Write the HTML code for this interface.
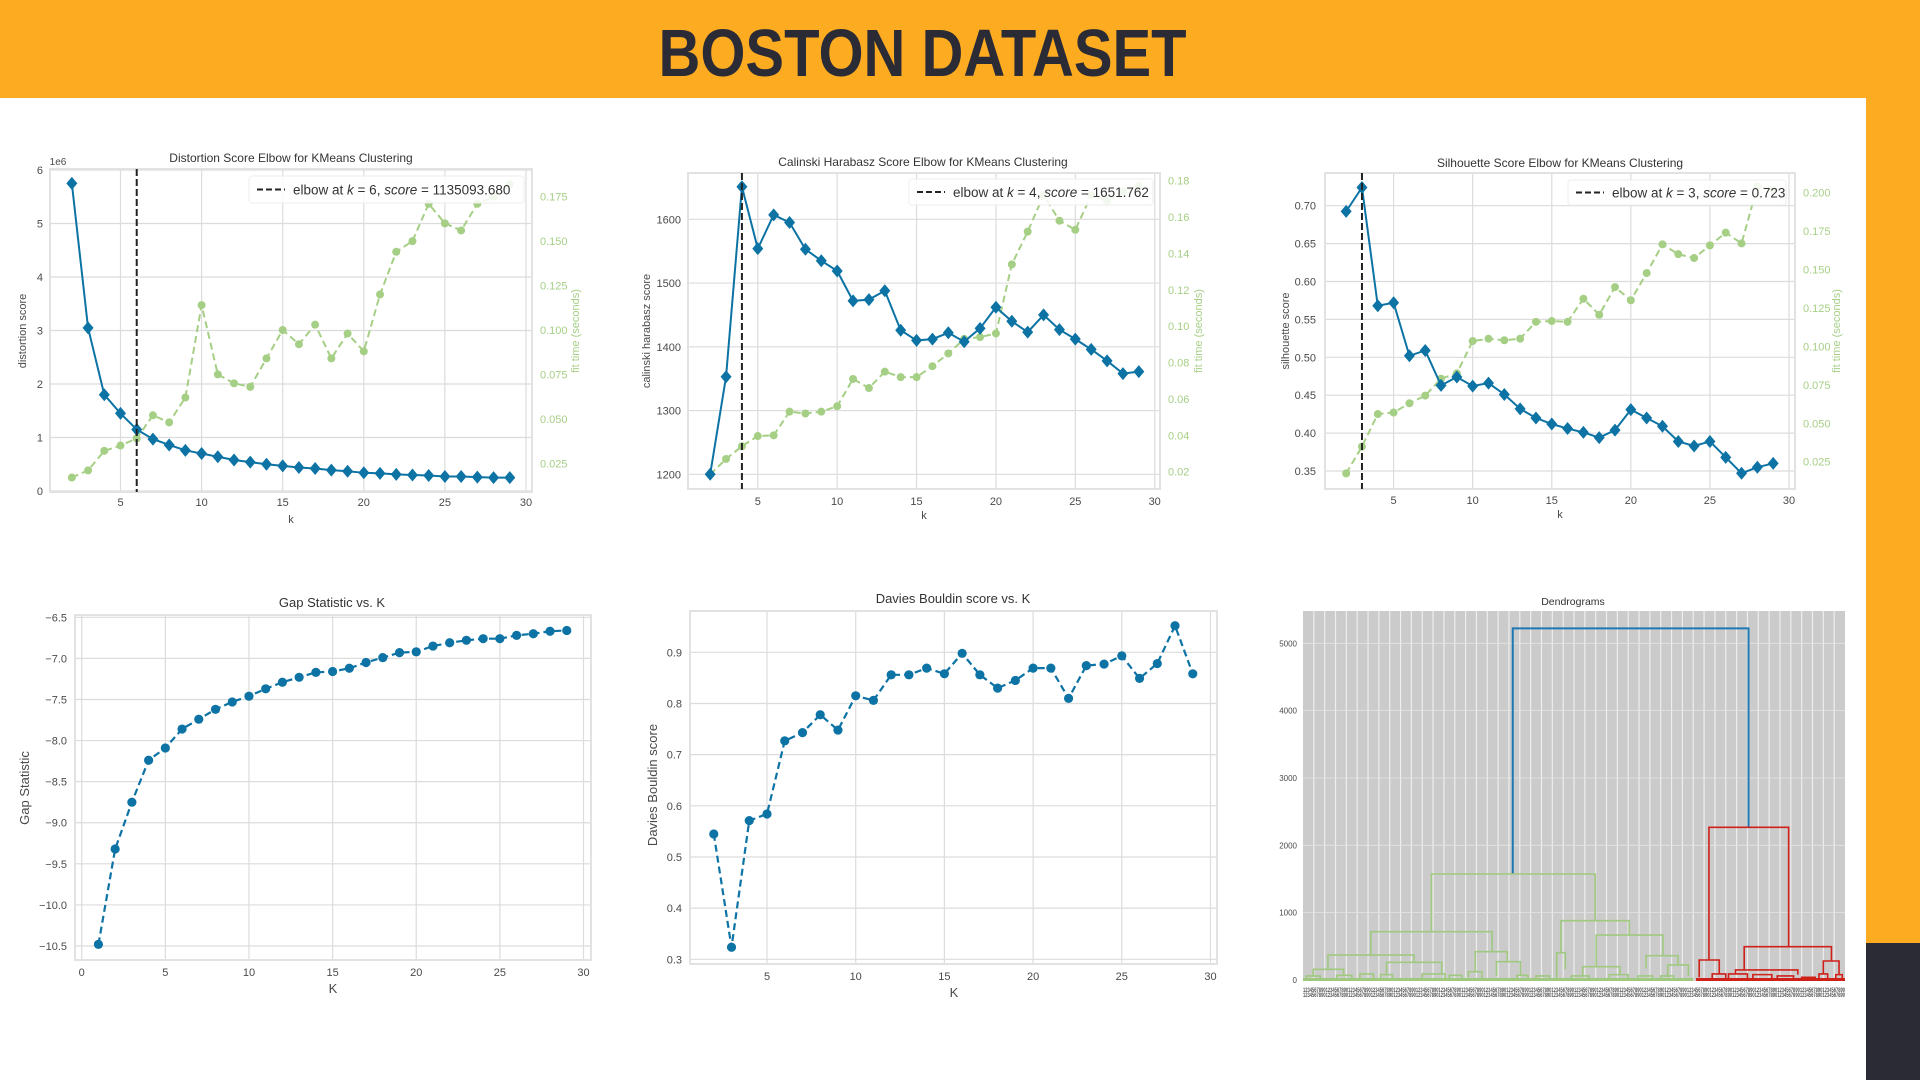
<!DOCTYPE html>
<html><head><meta charset="utf-8"><title>Boston Dataset</title>
<style>
html,body{margin:0;padding:0;width:1920px;height:1080px;overflow:hidden;background:#fff;font-family:"Liberation Sans",sans-serif;}
#hdr{position:absolute;left:0;top:0;width:1920px;height:98px;background:#fdab21;}
#hdr h1{margin:0;position:absolute;left:618px;width:600px;top:20px;text-align:center;font:bold 67px/1 "Liberation Sans",sans-serif;color:#2b2b36;transform:scaleX(0.865);transform-origin:50% 50%;white-space:nowrap;}
#strip{position:absolute;left:1866px;top:98px;width:54px;height:845px;background:#fdab21;}
#dark{position:absolute;left:1866px;top:943px;width:54px;height:137px;background:#2b2b36;}
svg{position:absolute;left:0;top:0;}
</style></head>
<body>
<div id="hdr"><h1>BOSTON DATASET</h1></div>
<div id="strip"></div>
<div id="dark"></div>
<svg id="main" width="1920" height="1080"></svg>
<script>
// ---------- data ----------
const kElbow = [2,3,4,5,6,7,8,9,10,11,12,13,14,15,16,17,18,19,20,21,22,23,24,25,26,27,28,29];
const distortion = [5.75,3.05,1.8,1.45,1.15,0.97,0.86,0.76,0.70,0.64,0.58,0.54,0.50,0.47,0.44,0.42,0.39,0.37,0.34,0.33,0.31,0.30,0.29,0.27,0.27,0.26,0.25,0.25];
const distFit = [0.017,0.021,0.032,0.035,0.039,0.052,0.048,0.062,0.114,0.075,0.070,0.068,0.084,0.100,0.092,0.103,0.084,0.098,0.088,0.120,0.144,0.150,0.171,0.160,0.156,0.171,0.175,0.182];
const calinski = [1200,1353,1651,1554,1607,1595,1553,1535,1519,1472,1474,1488,1426,1410,1412,1422,1408,1429,1462,1440,1423,1450,1427,1412,1396,1378,1358,1361];
const calFit = [0.0185,0.027,0.034,0.0396,0.040,0.053,0.052,0.053,0.056,0.071,0.066,0.075,0.072,0.072,0.078,0.085,0.093,0.094,0.096,0.134,0.152,0.172,0.158,0.153,0.172,0.169,0.174,0.177];
const silhouette = [0.6925,0.724,0.568,0.572,0.502,0.509,0.463,0.474,0.462,0.466,0.451,0.432,0.420,0.412,0.406,0.401,0.394,0.404,0.431,0.420,0.409,0.389,0.383,0.389,0.368,0.347,0.355,0.360];
const silFit = [0.0174,0.0348,0.056,0.057,0.063,0.068,0.079,0.0825,0.1035,0.105,0.104,0.105,0.116,0.1165,0.116,0.131,0.1206,0.1386,0.130,0.1477,0.1664,0.160,0.1575,0.1657,0.174,0.167,0.204,0.202];
const kGap = [1,2,3,4,5,6,7,8,9,10,11,12,13,14,15,16,17,18,19,20,21,22,23,24,25,26,27,28,29];
const gapStat = [-10.48,-9.32,-8.75,-8.24,-8.09,-7.86,-7.74,-7.62,-7.53,-7.46,-7.37,-7.29,-7.23,-7.17,-7.16,-7.12,-7.05,-6.99,-6.93,-6.92,-6.85,-6.81,-6.78,-6.76,-6.76,-6.72,-6.70,-6.67,-6.66];
const kDB = [2,3,4,5,6,7,8,9,10,11,12,13,14,15,16,17,18,19,20,21,22,23,24,25,26,27,28,29];
const daviesBouldin = [0.545,0.3235,0.571,0.584,0.727,0.743,0.778,0.748,0.815,0.806,0.856,0.856,0.869,0.858,0.898,0.856,0.830,0.845,0.869,0.869,0.810,0.874,0.877,0.893,0.849,0.878,0.952,0.858];
const elbowK = [6,4,3];
const elbowScoreText = ["1135093.680","1651.762","0.723"];
const ticksK = [5,10,15,20,25,30];
const ticksK0 = [0,5,10,15,20,25,30];
const ticksDist = [0,1,2,3,4,5,6];
const ticksDistFit = [0.025,0.050,0.075,0.100,0.125,0.150,0.175];
const ticksCal = [1200,1300,1400,1500,1600];
const ticksCalFit = [0.02,0.04,0.06,0.08,0.10,0.12,0.14,0.16,0.18];
const ticksSil = [0.35,0.40,0.45,0.50,0.55,0.60,0.65,0.70];
const ticksSilFit = [0.025,0.050,0.075,0.100,0.125,0.150,0.175,0.200];
const ticksGap = [-6.5,-7.0,-7.5,-8.0,-8.5,-9.0,-9.5,-10.0,-10.5];
const ticksDB = [0.3,0.4,0.5,0.6,0.7,0.8,0.9];
const ticksDendro = [0,1000,2000,3000,4000,5000];
// dendrogram links: [xLeft, xRight, height, heightLeftChild, heightRightChild, cluster]
const dendroLinks = [
 [38.7,82.2,5222,1574,2267,0],
 [23.7,53.9,1574,718,881,1],
 [12.5,34.9,718,371,421,1],
 [4.6,20.5,371,158,262,1],
 [1.9,7.5,158,60,70,1],
 [15.4,25.6,262,80,90,1],
 [31.8,37.7,421,124,272,1],
 [35.7,40.1,272,60,70,1],
 [30.5,33.0,124,40,30,1],
 [47.6,60.2,881,406,668,1],
 [46.8,48.4,406,30,160,1],
 [54.1,66.4,668,198,361,1],
 [51.6,58.5,198,60,80,1],
 [63.3,69.2,361,170,223,1],
 [67.3,71.1,223,40,60,1],
 [0.6,3.2,60,15,20,1],[6.2,9.0,70,20,25,1],[10.5,13.0,90,20,30,1],[14.3,16.5,80,25,20,1],
 [22.0,26.2,90,25,30,1],[27.0,29.3,70,20,15,1],[39.5,41.5,70,20,25,1],[43.0,45.5,60,15,20,1],
 [49.5,52.8,60,20,15,1],[56.5,60.0,80,20,25,1],[61.8,64.5,60,20,15,1],[66.0,68.4,60,20,25,1],
 [74.9,89.6,2267,297,495,2],
 [73.1,76.8,297,40,90,2],
 [81.4,97.5,495,150,282,2],
 [79.8,91.3,150,90,80,2],
 [96.0,98.9,282,90,80,2],
 [75.5,78.0,90,25,20,2],[78.5,82.0,90,30,20,2],[83.0,86.5,80,25,20,2],[87.5,90.5,60,15,20,2],
 [92.0,94.5,40,15,10,2],[95.2,96.8,90,20,15,2],[98.3,99.5,80,20,10,2]
];
const clusterColors = ["#1f78b4","#9fc97f","#d0201a"];

// ---------- helpers ----------
const NS="http://www.w3.org/2000/svg";
const svg=document.getElementById('main');
function el(tag,attrs,parent){const e=document.createElementNS(NS,tag);for(const k in attrs)e.setAttribute(k,attrs[k]);(parent||svg).appendChild(e);return e;}
function lin(d0,d1,p0,p1){return v=>p0+(v-d0)*(p1-p0)/(d1-d0);}
const BLUE="#0c73a4", GREEN="#a6cf86", TXT="#4a4a4a", GRID="#dcdcdc";
function fmt(v,dec){return v.toFixed(dec).replace('-','\u2212');}

function frame(g,r,name){
  const b=el('rect',{x:r[0],y:r[1],width:r[2]-r[0],height:r[3]-r[1],fill:'none',stroke:'#e2e2e2','stroke-width':2},g);
  
  
}
function xAxis(g,r,xs,ticks,ty,name,grid){
  ticks.forEach(t=>{
    const x=xs(t);
    if(grid){const l=el('line',{x1:x,x2:x,y1:r[1],y2:r[3],stroke:GRID,'stroke-width':1.2},g);
    
    }
    const tx=el('text',{x:x,y:ty,'text-anchor':'middle','font-size':11,fill:TXT},g);tx.textContent=t;
    
    
  });
}
function yAxis(g,r,ys,ticks,tx,dec,name,grid,color,anchor){
  ticks.forEach(t=>{
    const y=ys(t);
    if(grid){const l=el('line',{x1:r[0],x2:r[2],y1:y,y2:y,stroke:GRID,'stroke-width':1.2},g);
    
    }
    const te=el('text',{x:tx,y:y+4,'text-anchor':anchor||'end','font-size':11,fill:color||TXT},g);te.textContent=fmt(t,dec);
    
    
  });
}
function label(g,x,y,text,size,rot,color,name){
  const t=el('text',{x:x,y:y,'text-anchor':'middle','font-size':size,fill:color||TXT},g);
  if(rot)t.setAttribute('transform','rotate(-90 '+x+' '+y+')');
  t.textContent=text;
  
  
  return t;
}
function series(g,xsArr,vals,xs,ys,color,dash,marker,name,w){
  const pts=xsArr.map((k,i)=>xs(k)+','+ys(vals[i])).join(' ');
  const pl=el('polyline',{points:pts,fill:'none',stroke:color,'stroke-width':w||2,'stroke-dasharray':dash||'none'},g);
  
  
  xsArr.forEach((k,i)=>{
    const x=xs(k),y=ys(vals[i]);let m;
    if(marker==='d'){m=el('path',{d:`M${x},${y-6.5}L${x+5.5},${y}L${x},${y+6.5}L${x-5.5},${y}Z`,fill:color},g);}
    else{m=el('circle',{cx:x,cy:y,r:marker==='big'?4.6:4,fill:color},g);}
    
    
  });
}
function legend(g,box,k,score){
  const r=el('rect',{x:box[0],y:box[1],width:box[2]-box[0],height:box[3]-box[1],fill:'#fff','fill-opacity':0.85,stroke:'#eee',rx:3},g);
  
  
  const cy=(box[1]+box[3])/2;
  const l=el('line',{x1:box[0]+8,x2:box[0]+36,y1:cy,y2:cy,stroke:'#222','stroke-width':2,'stroke-dasharray':'6,3'},g);
  
  
  const t=el('text',{x:box[0]+44,y:cy+5,'font-size':13.5,fill:'#333'},g);
  
  
  t.innerHTML='elbow at <tspan font-style="italic">k</tspan> = '+k+', <tspan font-style="italic">score</tspan> = '+score;
}
function vline(g,r,x,name){
  const l=el('line',{x1:x,x2:x,y1:r[1],y2:r[3],stroke:'#222','stroke-width':2,'stroke-dasharray':'7,3'},g);
  
  
}

// ---------- chart 1: distortion ----------
(function(){
  const g=el('g',{});
  const r=[50,169,532,492];
  const xs=lin(5,30,120.5,526), ys=lin(0,6,491,170), ys2=lin(0.025,0.175,463.3,196.7);
  xAxis(g,r,xs,ticksK,506,'distortion',true);
  yAxis(g,r,ys,ticksDist,43,0,'distortion',true);
  yAxis(g,r,ys2,ticksDistFit,540,3,'distortion-fit',false,GREEN,'start');
  frame(g,r,'distortion');
  label(g,291,162,'Distortion Score Elbow for KMeans Clustering',12,false,'#333','distortion-chart-title');
  label(g,58,165,'1e6',10,false,TXT,'distortion-scale-label');
  label(g,26,331,'distortion score',11,true,TXT,'distortion-y-axis-title');
  label(g,291,523,'k',11,false,TXT,'distortion-x-axis-title');
  label(g,579,331,'fit time (seconds)',11,true,GREEN,'distortion-fit-axis-title');
  series(g,kElbow,distFit,xs,ys2,GREEN,'7,4','c','distortion-fit-time',2);
  series(g,kElbow,distortion,xs,ys,BLUE,null,'d','distortion-score',2);
  vline(g,r,xs(elbowK[0]),'distortion-elbow-line');
  legend(g,[249,176,524,203],elbowK[0],elbowScoreText[0]);
})();

// ---------- chart 2: calinski ----------
(function(){
  const g=el('g',{});
  const r=[688,173,1160,489];
  const xs=lin(5,30,757.8,1154.7), ys=lin(1200,1600,474.3,219.3), ys2=lin(0.02,0.18,471.7,180.7);
  xAxis(g,r,xs,ticksK,505,'calinski',true);
  yAxis(g,r,ys,ticksCal,681,0,'calinski',true);
  yAxis(g,r,ys2,ticksCalFit,1168,2,'calinski-fit',false,GREEN,'start');
  frame(g,r,'calinski');
  label(g,923,166,'Calinski Harabasz Score Elbow for KMeans Clustering',12,false,'#333','calinski-chart-title');
  label(g,650,331,'calinski harabasz score',11,true,TXT,'calinski-y-axis-title');
  label(g,924,519,'k',11,false,TXT,'calinski-x-axis-title');
  label(g,1202,331,'fit time (seconds)',11,true,GREEN,'calinski-fit-axis-title');
  series(g,kElbow,calFit,xs,ys2,GREEN,'7,4','c','calinski-fit-time',2);
  series(g,kElbow,calinski,xs,ys,BLUE,null,'d','calinski-score',2);
  vline(g,r,xs(elbowK[1]),'calinski-elbow-line');
  legend(g,[909,179,1153,205],elbowK[1],elbowScoreText[1]);
})();

// ---------- chart 3: silhouette ----------
(function(){
  const g=el('g',{});
  const r=[1325,173,1795,489];
  const xs=lin(5,30,1393.6,1789), ys=lin(0.35,0.70,471,205.7), ys2=lin(0.025,0.2,461.7,192.7);
  xAxis(g,r,xs,ticksK,504,'silhouette',true);
  yAxis(g,r,ys,ticksSil,1316,2,'silhouette',true);
  yAxis(g,r,ys2,ticksSilFit,1803,3,'silhouette-fit',false,GREEN,'start');
  frame(g,r,'silhouette');
  label(g,1560,167,'Silhouette Score Elbow for KMeans Clustering',12,false,'#333','silhouette-chart-title');
  label(g,1289,331,'silhouette score',11,true,TXT,'silhouette-y-axis-title');
  label(g,1560,518,'k',11,false,TXT,'silhouette-x-axis-title');
  label(g,1840,331,'fit time (seconds)',11,true,GREEN,'silhouette-fit-axis-title');
  series(g,kElbow,silFit,xs,ys2,GREEN,'7,4','c','silhouette-fit-time',2);
  series(g,kElbow,silhouette,xs,ys,BLUE,null,'d','silhouette-score',2);
  vline(g,r,xs(elbowK[2]),'silhouette-elbow-line');
  legend(g,[1568,180,1786,205],elbowK[2],elbowScoreText[2]);
})();

// ---------- chart 4: gap statistic ----------
(function(){
  const g=el('g',{});
  const r=[75,615,591,960];
  const xs=lin(0,30,81.7,583.5), ys=lin(-6.5,-10.5,617.3,946);
  xAxis(g,r,xs,ticksK0,976,'gap',true);
  yAxis(g,r,ys,ticksGap,67,1,'gap',true);
  frame(g,r,'gap');
  label(g,332,607,'Gap Statistic vs. K',13,false,'#333','gap-chart-title');
  label(g,29,788,'Gap Statistic',13,true,TXT,'gap-y-axis-title');
  label(g,333,993,'K',13,false,TXT,'gap-x-axis-title');
  series(g,kGap,gapStat,xs,ys,BLUE,'7,4','big','gap-statistic',2.2);
})();

// ---------- chart 5: davies bouldin ----------
(function(){
  const g=el('g',{});
  const r=[690,611,1217,964];
  const xs=lin(5,30,767,1210.5), ys=lin(0.3,0.9,959.3,652.3);
  xAxis(g,r,xs,ticksK,980,'davies-bouldin',true);
  yAxis(g,r,ys,ticksDB,682,1,'davies-bouldin',true);
  frame(g,r,'davies-bouldin');
  label(g,953,603,'Davies Bouldin score vs. K',13,false,'#333','davies-bouldin-chart-title');
  label(g,657,785,'Davies Bouldin score',13,true,TXT,'davies-bouldin-y-axis-title');
  label(g,954,997,'K',13,false,TXT,'davies-bouldin-x-axis-title');
  series(g,kDB,daviesBouldin,xs,ys,BLUE,'7,4','big','davies-bouldin-score',2.2);
})();

// ---------- chart 6: dendrogram ----------
(function(){
  const g=el('g',{});
  const r=[1303,611,1845,981];
  const xs=lin(0,100,1303,1845), ys=lin(0,5000,980,643.3);
  const bg=el('rect',{x:r[0],y:r[1],width:r[2]-r[0],height:r[3]-r[1],fill:'#cbcbcb'},g);
  
  
  for(let i=1;i<50;i++){
    const x=xs(i*2);
    const l=el('line',{x1:x,x2:x,y1:r[1],y2:r[3],stroke:'#eeeeee','stroke-width':1.2},g);
    
    
  }
  ticksDendro.forEach(t=>{
    const y=ys(t);
    const l=el('line',{x1:r[0],x2:r[2],y1:y,y2:y,stroke:'#e4e4e4','stroke-width':0.8},g);
    
    
    const tx=el('text',{x:1297,y:y+3,'text-anchor':'end','font-size':8,fill:TXT},g);tx.textContent=t;
    
    
  });
  label(g,1573,605,'Dendrograms',10.5,false,'#333','dendrogram-chart-title');
  dendroLinks.forEach(lk=>{
    const [x1,x2,h,h1,h2,c]=lk;
    const p=el('path',{d:`M${xs(x1)},${ys(h1)}V${ys(h)}H${xs(x2)}V${ys(h2)}`,fill:'none',stroke:clusterColors[c],'stroke-width':c===0?2:1.6},g);
    
    
  });
  const gl=el('line',{x1:xs(0),x2:xs(72),y1:ys(8),y2:ys(8),stroke:clusterColors[1],'stroke-width':3},g);
  
  
  const rl=el('line',{x1:xs(72.5),x2:xs(100),y1:ys(8),y2:ys(8),stroke:clusterColors[2],'stroke-width':3},g);
  
  
  [992,997].forEach(yy=>{
    const lab=el('text',{x:1303,y:yy,'font-size':6,fill:'#555',textLength:542,lengthAdjust:'spacingAndGlyphs','font-weight':'bold'},g);
    lab.textContent='1234567890'.repeat(24);
    
    
  });
})();
</script>
</body></html>
